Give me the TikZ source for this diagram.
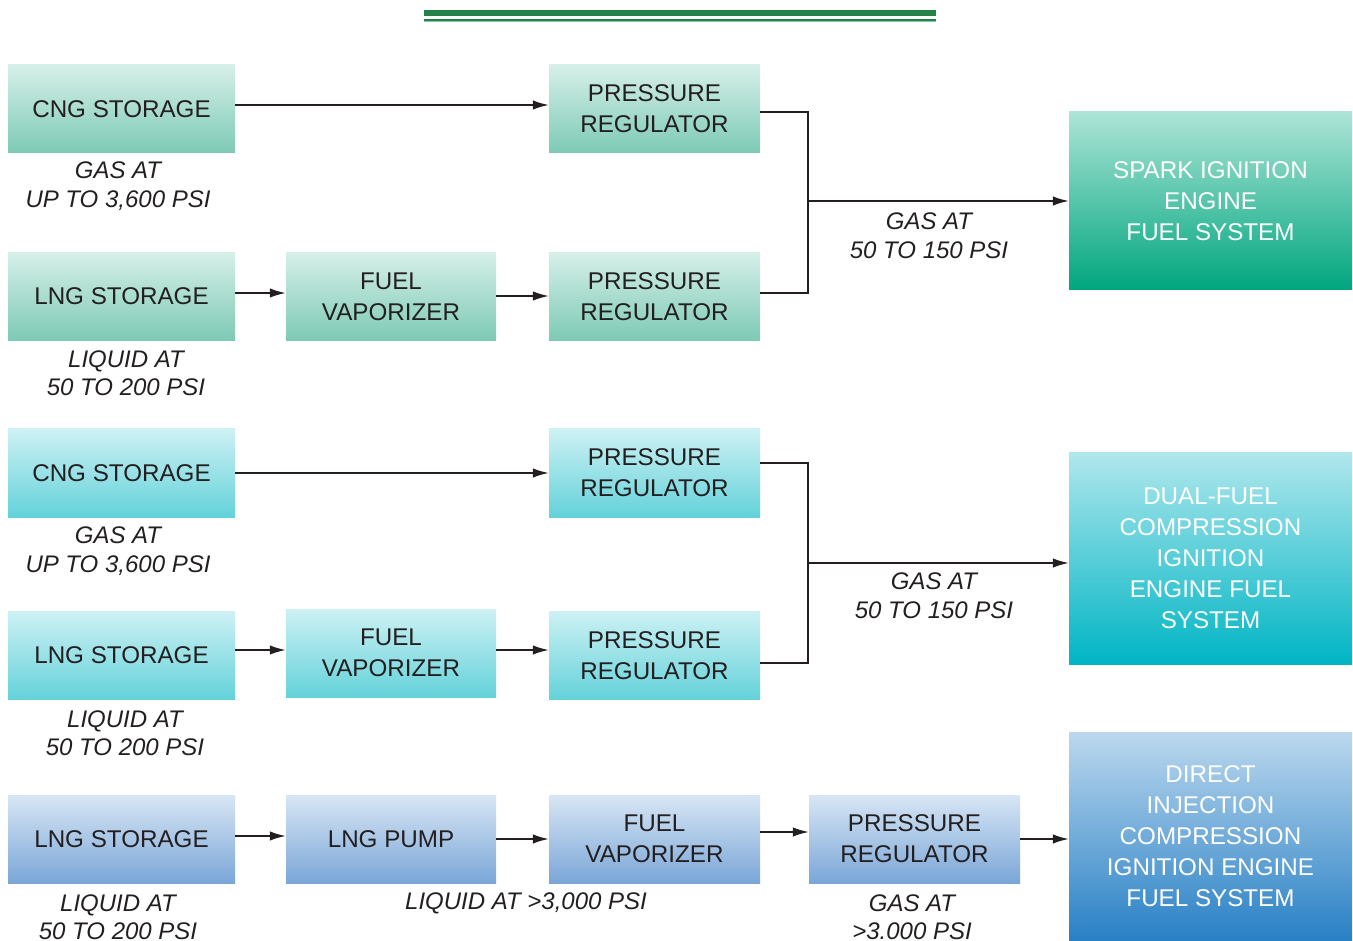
\documentclass[tikz,border=0pt]{standalone}
\usepackage{fontspec}
\setmainfont{Liberation Sans}
\usetikzlibrary{arrows.meta}
\definecolor{txt}{HTML}{231F20}
\definecolor{rulegreen}{HTML}{23824A}
\definecolor{ruleedge}{HTML}{8CC7A3}
\definecolor{gTop}{HTML}{D6EFE9}
\definecolor{gBot}{HTML}{7DCAB4}
\definecolor{geTop}{HTML}{ADE4D7}
\definecolor{geBot}{HTML}{00A67E}
\definecolor{cTop}{HTML}{CDF1F4}
\definecolor{cBot}{HTML}{64D2DA}
\definecolor{ceTop}{HTML}{B0E7EC}
\definecolor{ceBot}{HTML}{00B5C4}
\definecolor{bTop}{HTML}{D8E6F4}
\definecolor{bBot}{HTML}{7AA6D8}
\definecolor{beTop}{HTML}{BCD8EE}
\definecolor{beBot}{HTML}{2880C5}
\tikzset{
  box/.style={inner sep=0pt, align=center, text=txt,
    font=\fontsize{24.2}{31}\selectfont},
  sbox/.style={box, minimum width=227pt, minimum height=88pt},
  mbox/.style={box, minimum width=211pt, minimum height=88pt},
  gfill/.style={top color=gTop, bottom color=gBot},
  cfill/.style={top color=cTop, bottom color=cBot},
  bfill/.style={top color=bTop, bottom color=bBot},
  ebox/.style={box, text=white, minimum width=283pt},
  lbl/.style={inner sep=0pt, align=center, text=txt,
    font=\fontsize{24}{28.5}\selectfont\itshape},
  conn/.style={draw=txt, line width=1.6pt},
  arr/.style={conn, -{Latex[length=16pt,width=9.5pt]}}
}
\begin{document}
\begin{tikzpicture}[x=1pt,y=-1pt]
\useasboundingbox (0,0) rectangle (1353,941);
% top rule
\fill[rulegreen] (424,10.3) rectangle (936,16.2);
\fill[ruleedge] (424,18.8) rectangle (936,21.6);
\fill[rulegreen] (424,19.4) rectangle (936,21);

% ---------- row 1 (green) ----------
\node[sbox,gfill] (CNGa) at (121.5,109) {CNG STORAGE};
\node[mbox,gfill] (PRa) at (654.5,109) {PRESSURE\\REGULATOR};
\node[sbox,gfill] (LNGa) at (121.5,296.5) {LNG STORAGE};
\node[mbox,gfill,minimum width=210pt] (FVa) at (391,296.5) {FUEL\\VAPORIZER};
\node[mbox,gfill] (PRb) at (654.5,296.5) {PRESSURE\\REGULATOR};
\node[ebox,top color=geTop,bottom color=geBot,minimum height=178pt] (SI) at (1210.5,201) {SPARK IGNITION\\ENGINE\\FUEL SYSTEM};
\node[lbl] (La1) at (118,186) {GAS AT\\UP TO 3,600 PSI};
\node[lbl] (La2) at (126,373) {LIQUID AT\\50 TO 200 PSI};
\node[lbl] (La3) at (929,235.5) {GAS AT\\50 TO 150 PSI};
\coordinate (Ja) at (808,201);
\draw[arr] (CNGa.east |- 0,105) -- (PRa.west |- 0,105);
\draw[arr] (LNGa.east |- 0,293) -- (FVa.west |- 0,293);
\draw[arr] (FVa.east |- 0,296) -- (PRb.west |- 0,296);
\draw[conn] (PRa.east |- 0,112) -| (Ja) |- (PRb.east |- 0,293);
\draw[arr] (Ja) -- (SI.west |- Ja);

% ---------- row 2 (cyan) ----------
\node[sbox,cfill] (CNGb) at (121.5,473) {CNG STORAGE};
\node[mbox,cfill] (PRc) at (654.5,473) {PRESSURE\\REGULATOR};
\node[sbox,cfill] (LNGb) at (121.5,655.5) {LNG STORAGE};
\node[mbox,cfill,minimum width=210pt] (FVb) at (391,653) {FUEL\\VAPORIZER};
\node[mbox,cfill] (PRd) at (654.5,655.5) {PRESSURE\\REGULATOR};
\node[ebox,top color=ceTop,bottom color=ceBot,minimum height=212pt] (DF) at (1210.5,558) {DUAL-FUEL\\COMPRESSION\\IGNITION\\ENGINE FUEL\\SYSTEM};
\node[lbl] (Lb1) at (118,551) {GAS AT\\UP TO 3,600 PSI};
\node[lbl] (Lb2) at (125,733) {LIQUID AT\\50 TO 200 PSI};
\node[lbl] (Lb3) at (934,595.5) {GAS AT\\50 TO 150 PSI};
\coordinate (Jb) at (808,563);
\draw[arr] (CNGb.east |- 0,473) -- (PRc.west |- 0,473);
\draw[arr] (LNGb.east |- 0,650) -- (FVb.west |- 0,650);
\draw[arr] (FVb.east |- 0,650) -- (PRd.west |- 0,650);
\draw[conn] (PRc.east |- 0,463) -| (Jb) |- (PRd.east |- 0,663);
\draw[arr] (Jb) -- (DF.west |- Jb);

% ---------- row 3 (blue) ----------
\node[sbox,bfill] (LNGc) at (121.5,839) {LNG STORAGE};
\node[mbox,bfill,minimum width=210pt] (PUMP) at (391,839) {LNG PUMP};
\node[mbox,bfill] (FVc) at (654.5,839) {FUEL\\VAPORIZER};
\node[mbox,bfill] (PRe) at (914.5,839) {PRESSURE\\REGULATOR};
\node[ebox,top color=beTop,bottom color=beBot,minimum height=208pt] (DI) at (1210.5,836) {DIRECT\\INJECTION\\COMPRESSION\\IGNITION ENGINE\\FUEL SYSTEM};
\node[lbl] (Lc1) at (118,917) {LIQUID AT\\50 TO 200 PSI};
\node[lbl] (Lc2) at (526,903) {LIQUID AT >3,000 PSI};
\node[lbl] (Lc3) at (912,917) {GAS AT\\>3.000 PSI};
\draw[arr] (LNGc.east |- 0,836) -- (PUMP.west |- 0,836);
\draw[arr] (PUMP.east |- 0,839) -- (FVc.west |- 0,839);
\draw[arr] (FVc.east |- 0,832) -- (PRe.west |- 0,832);
\draw[arr] (PRe.east |- 0,839) -- (DI.west |- 0,839);
\end{tikzpicture}
\end{document}
